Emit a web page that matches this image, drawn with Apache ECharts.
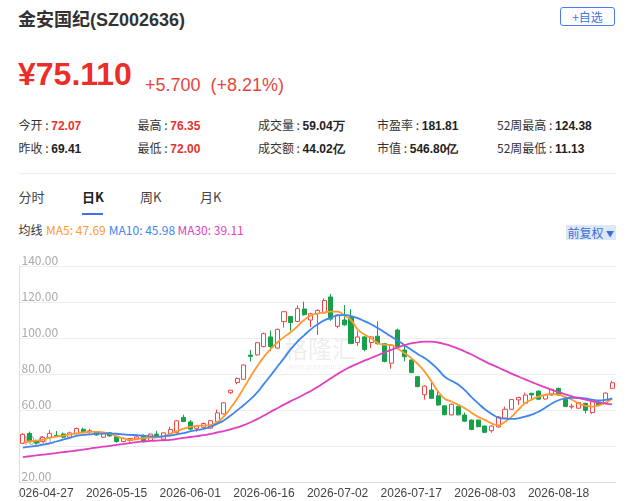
<!DOCTYPE html>
<html>
<head>
<meta charset="utf-8">
<script src="https://cdn.jsdelivr.net/npm/echarts@6/dist/echarts.min.js"></script>
<style>
  html, body { margin: 0; padding: 0; background: #fff; width: 644px; height: 501px; overflow: hidden; }
  .t { position: absolute; white-space: nowrap; line-height: 1; }
  .lat { font-family: "Liberation Sans", "Noto Sans CJK SC", sans-serif; }
  .cjk { font-family: "Noto Sans CJK SC", "Liberation Sans", sans-serif; }
  .stat { font-size: 12px; color: #333; }
  .stat .v { font-family: "Liberation Sans", sans-serif; font-weight: bold; color: #222; }
  .stat .r { color: #e8312f; }
  #chart { position: absolute; left: 18px; top: 250px; width: 600px; height: 251px; }
</style>
</head>
<body>
<div class="t lat" style="left:18px;top:11px;font-size:18px;font-weight:bold;color:#333;">金安国纪(SZ002636)</div>
<div class="t cjk" style="left:560px;top:7px;width:55px;height:19px;box-sizing:border-box;border:1px solid #4a7cf0;border-radius:3px;color:#3e72e6;font-size:12px;line-height:17px;text-align:center;">+自选</div>

<div class="t lat" style="left:18px;top:58px;font-size:32px;font-weight:bold;color:#ea2e2a;">¥75.110</div>
<div class="t lat" style="left:145px;top:75.5px;font-size:18px;color:#e8453c;">+5.700&nbsp;&nbsp;(+8.21%)</div>

<div id="stats"></div>

<div class="t" style="left:18.5px;top:173px;width:597px;height:1px;background:#eee;"></div>

<div class="t cjk" style="left:18.5px;top:190px;font-size:13px;color:#444;">分时</div>
<div class="t cjk" style="left:82px;top:190px;font-size:13px;color:#222;font-weight:bold;">日K</div>
<div class="t cjk" style="left:140px;top:190px;font-size:13px;color:#444;">周K</div>
<div class="t cjk" style="left:200px;top:190px;font-size:13px;color:#444;">月K</div>
<div class="t" style="left:82px;top:212.5px;width:21px;height:2px;background:#3b6ff5;"></div>

<div class="t cjk" style="left:18.5px;top:223.5px;font-size:12px;color:#333;">均线</div>
<div class="t cjk" id="lg5" style="left:46px;top:223.5px;font-size:12px;color:#ff9a2e;"></div>
<div class="t cjk" id="lg10" style="left:108.8px;top:223.5px;font-size:12px;color:#3d86f0;"></div>
<div class="t cjk" id="lg30" style="left:177.4px;top:223.5px;font-size:12px;color:#e23fbf;"></div>
<div class="t cjk" style="left:565.5px;top:225px;width:50.5px;height:15px;background:#dce7f8;color:#3b6fd6;font-size:12px;line-height:15px;text-align:center;">前复权 <span style="font-size:8px;vertical-align:1px;">▼</span></div>

<div id="chart"></div>

<script>
// ---- header values ----
const statLabels = [["今开", "昨收"], ["最高", "最低"], ["成交量", "成交额"], ["市盈率", "市值"], ["52周最高", "52周最低"]];
const statValues = [["72.07", "69.41"], ["76.35", "72.00"], ["59.04万", "44.02亿"], ["181.81", "546.80亿"], ["124.38", "11.13"]];
const statRed = [[true, false], [true, true], [false, false], [false, false], [false, false]];
const legendText = ["MA5: 47.69", "MA10: 45.98", "MA30: 39.11"];

// ---- chart data ----
const dates = [
  "2026-04-22","2026-04-23","2026-04-24","2026-04-27","2026-04-28","2026-04-29","2026-04-30","2026-05-06","2026-05-07","2026-05-08",
  "2026-05-11","2026-05-12","2026-05-13","2026-05-14","2026-05-15","2026-05-18","2026-05-19","2026-05-20","2026-05-21","2026-05-22",
  "2026-05-25","2026-05-26","2026-05-27","2026-05-28","2026-05-29","2026-06-01","2026-06-02","2026-06-03","2026-06-04","2026-06-05",
  "2026-06-08","2026-06-09","2026-06-10","2026-06-11","2026-06-12","2026-06-15","2026-06-16","2026-06-17","2026-06-18","2026-06-22",
  "2026-06-23","2026-06-24","2026-06-25","2026-06-26","2026-06-29","2026-06-30","2026-07-01","2026-07-02","2026-07-03","2026-07-06",
  "2026-07-07","2026-07-08","2026-07-09","2026-07-10","2026-07-13","2026-07-14","2026-07-15","2026-07-16","2026-07-17","2026-07-20",
  "2026-07-21","2026-07-22","2026-07-23","2026-07-24","2026-07-27","2026-07-28","2026-07-29","2026-07-30","2026-07-31","2026-08-03",
  "2026-08-04","2026-08-05","2026-08-06","2026-08-07","2026-08-10","2026-08-11","2026-08-12","2026-08-13","2026-08-14","2026-08-17",
  "2026-08-18","2026-08-19","2026-08-20","2026-08-21","2026-08-24","2026-08-25","2026-08-26","2026-08-27","2026-08-28"
];
const openP = [
  41.5,47.0,43.0,42.4,44.8,45.9,46.7,44.9,46.8,49.3,
  48.0,47.9,44.9,47.3,45.2,42.5,43.1,43.8,45.8,43.0,
  46.6,43.8,46.7,47.4,55.9,53.4,49.8,50.4,49.9,53.5,
  57.8,69.6,75.3,77.1,90.5,90.6,95.2,100.6,94.4,109.1,
  111.9,109.2,116.1,110.0,113.6,114.0,122.8,106.5,110.0,111.5,
  97.5,100.6,97.5,101.0,96.8,86.0,104.4,93.3,87.8,78.5,
  68.5,71.1,67.9,62.3,57.3,62.0,57.2,54.4,54.4,51.1,
  48.5,50.6,55.5,60.4,65.6,63.8,69.3,70.5,66.1,68.3,
  72.0,65.9,61.7,61.0,63.7,58.6,64.5,64.1,72.07
];
const closeP = [
  46.5,42.4,41.6,44.8,47.0,45.5,44.9,47.3,49.7,47.5,
  48.5,46.1,46.9,45.6,42.5,44.2,44.2,45.1,42.6,46.6,
  45.7,47.3,49.2,54.0,53.6,49.4,51.1,52.5,54.1,58.4,
  64.0,71.0,77.5,85.0,89.8,97.4,102.4,95.3,104.8,114.6,
  108.6,116.3,112.9,113.5,115.3,120.8,110.5,112.8,107.3,97.0,
  100.6,93.6,100.6,96.8,87.0,96.1,95.3,89.6,80.8,73.0,
  73.3,66.5,62.8,57.4,63.2,57.3,53.8,49.2,50.7,47.6,
  51.1,56.1,60.4,65.8,67.0,68.3,68.4,66.0,68.3,71.5,
  68.3,62.0,62.1,64.1,59.8,64.6,62.9,69.41,75.11
];
const lowP = [
  41.0,42.0,41.0,42.0,44.3,45.0,44.3,44.5,46.5,47.0,
  46.5,45.8,44.5,45.2,41.8,42.0,41.7,43.5,42.0,42.8,
  45.3,42.8,46.4,47.0,53.2,48.5,48.0,50.0,49.6,53.2,
  57.5,68.8,74.3,76.8,86.9,90.3,94.8,92.6,94.0,105.8,
  104.0,108.8,112.5,106.0,101.7,113.5,109.5,105.4,106.8,96.5,
  95.6,92.6,94.4,96.4,86.5,82.9,94.9,87.0,80.4,72.6,
  65.8,66.2,62.4,57.0,57.0,57.0,53.4,48.8,50.4,47.2,
  47.4,50.2,55.1,60.1,62.8,63.4,65.3,65.6,65.8,68.0,
  67.9,61.6,60.6,60.6,58.1,57.8,62.0,63.8,72.00
];
const highP = [
  47.2,48.0,43.5,45.5,48.9,48.3,47.5,48.0,50.3,50.2,
  49.5,48.3,47.3,47.8,45.6,44.6,44.5,45.5,46.5,47.0,
  48.5,47.6,50.7,54.3,57.4,54.5,51.5,53.0,54.4,60.3,
  64.4,71.1,78.0,85.3,93.3,97.8,103.0,104.2,105.3,115.0,
  112.2,118.0,120.2,114.0,116.0,122.0,124.38,113.2,118.3,116.0,
  103.8,101.0,101.0,109.3,97.2,96.5,105.2,96.1,88.2,78.8,
  73.6,75.6,70.5,62.6,63.6,62.4,58.6,54.7,54.7,51.4,
  51.4,56.5,61.9,66.1,67.3,69.6,69.5,70.8,68.6,71.8,
  72.4,66.2,63.5,64.4,64.0,64.9,64.8,69.8,76.35
];
const ma5 = [
  41.8,42.5,43.0,43.6,44.5,45.2,45.8,46.4,47.0,47.5,
  47.8,47.9,47.6,46.8,45.5,44.2,43.4,43.8,44.3,44.6,
  44.8,45.5,46.8,48.3,49.6,50.6,51.2,51.4,51.6,53.2,
  56.3,61.0,66.3,72.3,78.5,84.3,89.5,93.8,97.5,100.5,
  103.2,106.5,110.0,112.5,113.6,114.2,114.7,114.7,112.5,110.0,
  104.8,102.0,99.9,97.2,96.3,96.1,94.0,91.5,88.8,85.5,
  81.3,76.0,70.3,66.3,64.7,62.9,61.0,58.5,56.2,54.5,
  52.6,51.5,53.5,56.3,60.2,63.8,65.8,67.4,68.4,68.9,
  68.5,67.2,65.7,63.6,62.4,61.9,62.6,64.0,66.4
];
const ma10 = [
  39.1,39.6,40.1,40.7,41.5,42.5,43.5,44.5,45.6,46.2,
  46.5,46.8,46.9,47.0,46.8,46.5,46.2,46.0,45.7,45.4,
  45.2,45.3,45.8,46.4,47.2,48.1,48.8,49.5,50.7,52.3,
  54.2,56.8,59.8,62.8,66.0,69.8,74.5,79.2,84.0,88.8,
  93.8,98.0,101.5,104.8,107.5,109.8,111.3,112.6,112.8,112.2,
  111.0,109.4,107.6,105.5,103.2,100.8,98.5,96.0,93.5,91.0,
  88.8,86.0,82.5,78.5,76.2,74.2,71.0,67.2,63.7,60.4,
  57.8,55.8,55.2,55.1,55.4,56.3,57.5,59.0,61.2,63.6,
  65.4,66.5,66.8,66.8,66.4,65.8,65.3,65.6,66.5
];
const ma30 = [
  33.8,34.3,34.8,35.2,35.6,36.1,36.6,37.0,37.5,38.0,
  38.6,39.1,39.6,40.1,40.6,41.1,41.6,42.2,42.5,42.8,
  43.0,43.2,43.4,43.9,44.5,45.0,45.5,46.0,46.7,47.5,
  48.3,49.2,50.3,51.6,53.2,54.9,56.9,59.0,61.0,63.0,
  64.9,66.7,68.6,70.6,72.8,75.2,77.6,80.0,82.2,84.1,
  85.8,87.4,88.9,90.4,91.9,93.4,94.8,96.0,97.0,97.6,
  98.0,98.0,97.5,96.6,95.5,94.1,92.5,90.8,88.9,87.0,
  85.2,83.6,81.9,80.2,78.6,77.0,75.5,74.0,72.6,71.2,
  69.9,68.7,67.6,66.6,65.7,64.9,64.2,63.6,63.1
];
const yTicks = { min: 20, max: 140, step: 20 };

// ---- header build ----
const colX = [18.5, 137.6, 257.9, 377, 497];
const rowTop = [118.5, 141.5];
const statsEl = document.getElementById('stats');
statLabels.forEach((col, c) => {
  col.forEach((lab, r) => {
    const d = document.createElement('div');
    d.className = 't stat cjk';
    d.style.left = colX[c] + 'px';
    d.style.top = rowTop[r] + 'px';
    d.innerHTML = lab + ' : <span class="v' + (statRed[c][r] ? ' r' : '') + '">' + statValues[c][r] + '</span>';
    statsEl.appendChild(d);
  });
});
document.getElementById('lg5').textContent = legendText[0];
document.getElementById('lg10').textContent = legendText[1];
document.getElementById('lg30').textContent = legendText[2];

// ---- chart ----
const kData = openP.map((o, i) => [o, closeP[i], lowP[i], highP[i]]);
const chart = echarts.init(document.getElementById('chart'), null, { renderer: 'canvas' });
const lineBase = { type: 'line', smooth: true, showSymbol: false, symbol: 'none', silent: true };
chart.setOption({
  animation: false,
  grid: { left: 1.5, right: 2.5, top: 16, bottom: 19, containLabel: false, outerBoundsMode: 'none' },
  graphic: [
    { type: 'text', x: 302, y: 99, z: 1, silent: true,
      style: { text: '格隆汇', font: '24px "Noto Sans CJK SC"', fill: 'rgba(0,0,0,0.07)', textAlign: 'center', textVerticalAlign: 'middle' } },
    { type: 'text', x: 302, y: 117, z: 1, silent: true,
      style: { text: 'www.gelonghui.com', font: '7px "Liberation Sans"', fill: 'rgba(0,0,0,0.08)', textAlign: 'center', textVerticalAlign: 'middle' } }
  ],
  xAxis: {
    type: 'category', data: dates, boundaryGap: true,
    axisLine: { lineStyle: { color: '#ddd' } },
    axisTick: { interval: (i) => i % 11 === 9, length: 5, lineStyle: { color: '#ddd' } },
    axisLabel: { interval: (i) => i % 11 === 3, color: '#444', fontSize: 12, margin: 6, fontFamily: 'Liberation Sans',
      hideOverlap: false },
    splitLine: { show: false }
  },
  yAxis: {
    type: 'value', min: yTicks.min, max: yTicks.max, interval: yTicks.step, scale: false,
    axisLine: { show: true, lineStyle: { color: '#ddd' } },
    axisTick: { show: false },
    axisLabel: { inside: true, verticalAlign: 'bottom', margin: 2, color: '#aaa', fontSize: 12,
      fontFamily: 'Noto Sans CJK SC', formatter: (v) => v.toFixed(2) },
    splitLine: { lineStyle: { color: '#eee' } }
  },
  series: [
    { type: 'candlestick', data: kData, barWidth: '68%', silent: true,
      itemStyle: { color: '#ffffff', color0: '#16a04a', borderColor: '#f04848', borderColor0: '#16a04a', borderWidth: 1 } },
    Object.assign({ data: ma5, lineStyle: { color: '#ff9a2e', width: 1.8 } }, lineBase),
    Object.assign({ data: ma10, lineStyle: { color: '#3d86f0', width: 1.8 } }, lineBase),
    Object.assign({ data: ma30, lineStyle: { color: '#e23fbf', width: 1.8 } }, lineBase)
  ]
});
</script>
</body>
</html>
